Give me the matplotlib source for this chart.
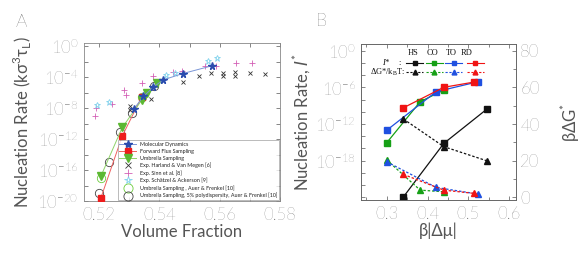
import math
import matplotlib
matplotlib.use('Agg')
import matplotlib.pyplot as plt
from matplotlib.ticker import FixedLocator, FuncFormatter, MultipleLocator

plt.rcParams['font.family'] = ['Lato', 'DejaVu Sans']
plt.rcParams['font.weight'] = 'light'
plt.rcParams['axes.unicode_minus'] = False
plt.rcParams['mathtext.fontset'] = 'custom'
plt.rcParams['mathtext.rm'] = 'Lato'
plt.rcParams['mathtext.it'] = 'DejaVu Sans:italic'

GREY = '#555555'

# ---------------- panel A data ----------------
md_phi = [0.5316, 0.5347, 0.5380, 0.5413, 0.5477, 0.5573]
md_rate = [8.3e-9, 3.2e-7, 5.0e-6, 4.4e-5, 2.8e-4, 2.75e-3]
ffs_phi = [0.5206, 0.5277, 0.5341]
ffs_rate = [2.5e-20, 2.5e-12, 2.5e-7]
us_phi = [0.5206, 0.5277, 0.5343, 0.5360, 0.5393]
us_rate = [1.6e-17, 3.2e-11, 1.26e-7, 7.9e-7, 1.6e-5]
harland_phi = [0.5302, 0.5302, 0.5371, 0.5479, 0.5531, 0.5570, 0.5611, 0.5611,
               0.5650, 0.5650, 0.5699, 0.5750]
harland_rate = [1.7e-8, 5.0e-9, 1.5e-7, 2.6e-5, 1.55e-4, 3.2e-4, 3.8e-4, 1.4e-4,
                4.3e-4, 1.4e-4, 3.2e-4, 2.3e-4]
sinn_phi = [0.5186, 0.5190, 0.5242, 0.5283, 0.5290, 0.5343, 0.5380, 0.5446,
            0.5474, 0.5551, 0.5587, 0.5653, 0.5706]
sinn_rate = [8.7e-10, 1.0e-8, 3.6e-8, 1.9e-6, 5.2e-7, 1.66e-5, 1.4e-4, 4.3e-4,
             6.8e-4, 2.75e-3, 2.75e-3, 6.0e-3, 7.2e-3]
schatzel_phi = [0.5194, 0.5233, 0.5421, 0.5451, 0.5561, 0.5592]
schatzel_rate = [2.75e-8, 6.0e-8, 1.9e-4, 3.2e-4, 1.3e-2, 2.6e-2]
af_mono_phi = [0.5207, 0.5343]
af_mono_rate = [1.0e-17, 3.0e-7]
af_poly_phi = [0.5200, 0.5234, 0.5270, 0.5310, 0.5382]
af_poly_rate = [1.0e-19, 1.1e-15, 7.9e-12, 2.3e-9, 6.3e-6]

# ---------------- panel B data ----------------
hs_mu = [0.341, 0.440, 0.545]
hs_rate = [1.1e-24, 6.6e-16, 2.6e-10]
hs_dg = [42.7, 27.6, 19.9]
co_mu = [0.300, 0.382, 0.440]
co_rate = [8.5e-16, 4.6e-9, 3.8e-7]
co_dg = [20.3, 3.8, 2.9]
to_mu = [0.300, 0.421, 0.525]
to_rate = [9.5e-14, 2.0e-7, 9.1e-6]
to_dg = [19.3, 5.3, 1.6]
rd_mu = [0.341, 0.440, 0.515]
rd_rate = [4.7e-10, 1.07e-6, 7.9e-6]
rd_dg = [12.4, 3.8, 2.0]


def pow_label(every, skip_below=None):
    def fmt(v, p):
        k = round(math.log10(v))
        if k % every != 0 or (skip_below is not None and k <= skip_below):
            return ''
        return r'$\mathdefault{10^{%d}}$' % k
    return FuncFormatter(fmt)


fig = plt.figure(figsize=(5.81, 2.57), dpi=100)

# =============== PANEL A ===============
axA = fig.add_axes([0.1446, 0.2179, 0.3373, 0.6148])
axA.plot(md_phi, md_rate, '-', color='#7b96d6', lw=0.7, marker='*', ms=5.5,
         mfc='#2a4cae', mec='#2a4cae', label='Molecular Dynamics', zorder=5)
axA.plot(ffs_phi, ffs_rate, '-', color='#f06060', lw=0.7, marker='s', ms=4.5,
         mfc='#ee1c1c', mec='#ee1c1c', label='Forward Flux Sampling', zorder=4)
axA.plot(us_phi, us_rate, '-', color='#8fd36a', lw=0.7, marker='v', ms=5.5,
         mfc='#5cb832', mec='#5cb832', label='Umbrella Sampling', zorder=4)
axA.plot(harland_phi, harland_rate, 'x', color='#333333', ms=3.5, mew=0.6,
         label='Exp. Harland & Van Megen [6]')
axA.plot(sinn_phi, sinn_rate, '+', color='#d35fb5', ms=5, mew=0.6,
         label='Exp. Sinn et al. [8]')
axA.plot(schatzel_phi, schatzel_rate, '*', color='#7fd2ec', ms=5, mfc='none',
         mew=0.6, label='Exp. Sch\u00e4tzel & Ackerson [9]')
axA.plot(af_mono_phi, af_mono_rate, 'o', mfc='none', mec='#6ccc3c', ms=6,
         mew=0.6, label='Umbrella Sampling , Auer & Frenkel [10]')
axA.plot(af_poly_phi, af_poly_rate, 'o', mfc='none', mec='#444444', ms=6,
         mew=0.6, label='Umbrella Sampling, 5% polydispersity, Auer & Frenkel [10]')

axA.set_yscale('log')
axA.set_xlim(0.515, 0.58)
axA.set_ylim(1e-20, 10 ** 0.4)
axA.xaxis.set_major_locator(FixedLocator([0.52, 0.53, 0.54, 0.55, 0.56, 0.57, 0.58]))
axA.xaxis.set_major_formatter(FuncFormatter(
    lambda v, p: ('%.2f' % v) if round(v * 100) % 2 == 0 else ''))
axA.yaxis.set_major_locator(FixedLocator([10.0 ** k for k in range(-20, 1, 2)]))
axA.yaxis.set_minor_locator(FixedLocator([]))
axA.yaxis.set_major_formatter(pow_label(4))
axA.tick_params(direction='in', top=True, right=True, length=3, width=0.5,
                labelsize=12, colors=GREY, pad=4)
for s in axA.spines.values():
    s.set_color('#888888')
    s.set_linewidth(0.6)
axA.set_xlabel('Volume Fraction', fontsize=12, color=GREY, labelpad=1)
axA.set_ylabel('Nucleation Rate (k\u03c3$^{\\mathdefault{3}}$\u03c4$_{\\mathdefault{L}}$)',
               fontsize=12, color=GREY, labelpad=2)
legA = axA.legend(loc='lower right', bbox_to_anchor=(0.996, 0.006),
                  borderaxespad=0, fontsize=3.9, frameon=True, fancybox=False,
                  edgecolor='#888888', handlelength=3.0, labelspacing=0.35,
                  borderpad=0.3, handletextpad=0.8, markerscale=1.1)
legA.get_frame().set_linewidth(0.5)
for t in legA.get_texts():
    t.set_color('#222222')
    t.set_fontweight('normal')

fig.text(0.036, 0.914, 'A', fontsize=13, color='#333333', ha='center', va='center')

# =============== PANEL B ===============
axB = fig.add_axes([0.6222, 0.2218, 0.2659, 0.6070])
axB2 = axB.twinx()

colors = {'HS': '#111111', 'CO': '#16a016', 'TO': '#1f50e0', 'RD': '#f01414'}
series = [('HS', hs_mu, hs_rate, hs_dg), ('CO', co_mu, co_rate, co_dg),
          ('TO', to_mu, to_rate, to_dg), ('RD', rd_mu, rd_rate, rd_dg)]
for name, mu, rate, dg in series:
    c = colors[name]
    axB.plot(mu, rate, '-', color=c, lw=0.9, marker='s', ms=5, mfc=c, mec=c)
    axB2.plot(mu, dg, '--', color=c, lw=0.9, dashes=(2, 1.5), marker='^', ms=4.5,
              mfc=c, mec=c)

axB.set_yscale('log')
axB.set_xlim(0.238, 0.617)
axB.set_ylim(10 ** -24.48, 10 ** 1.14)
axB2.set_ylim(-1.6, 83.8)
axB.xaxis.set_major_locator(MultipleLocator(0.1))
axB.xaxis.set_minor_locator(MultipleLocator(0.05))
axB.xaxis.set_major_formatter(FuncFormatter(lambda v, p: '%.1f' % v))
axB.yaxis.set_major_locator(FixedLocator([10.0 ** k for k in range(-24, 1, 2)]))
axB.yaxis.set_minor_locator(FixedLocator([]))
axB.yaxis.set_major_formatter(pow_label(6, skip_below=-24))
axB2.yaxis.set_major_locator(MultipleLocator(20))
axB2.yaxis.set_minor_locator(MultipleLocator(10))
axB.tick_params(which='both', direction='in', top=True, length=3, width=0.5,
                labelsize=12, colors=GREY, pad=4)
axB.tick_params(which='minor', length=2)
axB2.tick_params(which='both', direction='in', length=3, width=0.5,
                 labelsize=12, colors=GREY, pad=3)
axB2.tick_params(which='minor', length=2)
for a in (axB, axB2):
    for s in a.spines.values():
        s.set_color('#666666')
        s.set_linewidth(0.6)
axB.set_xlabel('\u03b2|\u0394\u03bc|', fontsize=12, color=GREY, labelpad=1)
axB.set_ylabel(r'Nucleation Rate, $\mathit{I}^{\mathdefault{*}}$', fontsize=12,
               color=GREY, labelpad=2)
axB2.set_ylabel('\u03b2\u0394G$^{\\mathdefault{*}}$', fontsize=12, color=GREY, labelpad=14)

# key in the upper part of panel B
serif = 'Liberation Serif'
tr = axB.transAxes
keys = [('HS', 0.334, 0.345), ('CO', 0.457, 0.470), ('TO', 0.583, 0.598), ('RD', 0.680, 0.735)]
for name, hx, lx in keys:
    c = colors[name]
    axB.text(hx, 0.940, name, transform=tr, fontsize=6, family=serif,
             weight='normal', ha='center', va='center', color='#111111')
    axB.plot([lx - 0.055, lx + 0.055], [0.876, 0.876], '-', color=c, lw=0.8,
             transform=tr, clip_on=False)
    axB.plot([lx], [0.876], 's', color=c, ms=3.5, transform=tr, clip_on=False)
    axB.plot([lx - 0.055, lx + 0.055], [0.819, 0.819], '--', dashes=(2, 1.5),
             color=c, lw=0.8, transform=tr, clip_on=False)
    axB.plot([lx], [0.819], '^', color=c, ms=3.5, transform=tr, clip_on=False)
axB.text(0.13, 0.876, 'I*', transform=tr, fontsize=6, family=serif, style='italic',
         weight='normal', ha='left', va='center', color='#111111')
axB.text(0.24, 0.876, ':', transform=tr, fontsize=6, family=serif,
         weight='normal', ha='left', va='center', color='#111111')
axB.text(0.285, 0.819, '\u0394G*/k$_{\\mathdefault{B}}$T:', transform=tr, fontsize=6,
         family=serif, weight='normal', ha='right', va='center', color='#111111')

fig.text(0.554, 0.918, 'B', fontsize=13, color='#333333', ha='center', va='center')

fig.savefig('out.png', dpi=100)
